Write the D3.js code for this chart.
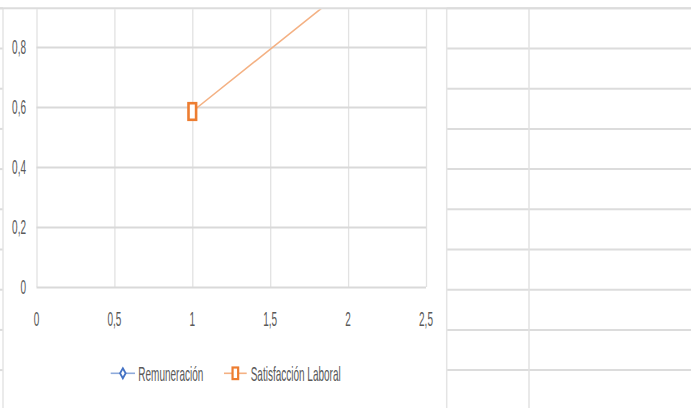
<!DOCTYPE html>
<html>
<head>
<meta charset="utf-8">
<script src="https://cdn.jsdelivr.net/npm/d3@7/dist/d3.min.js"></script>
<style>
  html, body { margin: 0; padding: 0; background: #ffffff; }
  svg { display: block; }
  text { font-family: "Liberation Sans", Arial, sans-serif; fill: #595959; }
</style>
</head>
<body>
<svg id="chart" width="691" height="408"></svg>
<script>
// ---- data ----
const xTicks = [0, 0.5, 1, 1.5, 2, 2.5];
const yTicks = [0, 0.2, 0.4, 0.6, 0.8];
const seriesNames = ["Remuneración", "Satisfacción Laboral"];
const remuneracionX = [];
const remuneracionY = [];
const satisfaccionX = [1, 2];
const satisfaccionY = [0.585, 1.0];

// ---- layout ----
const W = 691, H = 408;
const plot = { left: 36.5, right: 426, zero: 287, top: 9.3 };
const FS = 20, SX = 0.5; // condensed text
const colors = { rem: "#4472c4", remLine: "#8eaadb", sat: "#ed7d31", satLine: "#f4b183" };
const gridColor = "#d9d9d9", vGridColor = "#e2e2e2", sheetColor = "#dcdcdc";

const svg = d3.select("#chart");
svg.append("rect").attr("width", W).attr("height", H).attr("fill", "#fff");

const x = d3.scaleLinear().domain([0, 2.5]).range([plot.left, plot.right]);
const y = d3.scaleLinear().domain([0, 1]).range([plot.zero, plot.zero - 300]);

// ---- spreadsheet background (row / column lines around the chart) ----
const rowYs = d3.range(10).map(i => 8.3 + i * 40.2);
const chartL = 3, chartR = 446.7;
svg.append("g").selectAll("line.rowR").data(rowYs).join("line")
  .attr("x1", chartR).attr("x2", W).attr("y1", d => d).attr("y2", d => d)
  .attr("stroke", sheetColor).attr("stroke-width", 2);
svg.append("g").selectAll("line.rowL").data(rowYs).join("line")
  .attr("x1", 0).attr("x2", chartL).attr("y1", d => d).attr("y2", d => d)
  .attr("stroke", sheetColor).attr("stroke-width", 2);
svg.append("line").attr("x1", 529).attr("x2", 529).attr("y1", 9).attr("y2", H)
  .attr("stroke", vGridColor).attr("stroke-width", 1.5);
// chart borders
[chartL, chartR].forEach(cx => svg.append("line")
  .attr("x1", cx).attr("x2", cx).attr("y1", 9).attr("y2", H)
  .attr("stroke", "#e4e4e4").attr("stroke-width", 1.5));

// ---- clip for plot ----
svg.append("defs").append("clipPath").attr("id", "clip")
  .append("rect").attr("x", 0).attr("y", plot.top).attr("width", W).attr("height", H);

const g = svg.append("g").attr("clip-path", "url(#clip)");

// vertical gridlines
g.append("g").attr("transform", `translate(0,${plot.zero})`)
  .call(d3.axisBottom(x).tickValues(xTicks).tickSize(-(plot.zero - plot.top + 20)).tickFormat(""))
  .call(a => a.select(".domain").remove())
  .call(a => a.selectAll("line").attr("stroke", vGridColor).attr("stroke-width", 1.3));

// horizontal gridlines
g.append("g").attr("transform", `translate(${plot.left},0)`)
  .call(d3.axisLeft(y).tickValues(yTicks).tickSize(-(plot.right - plot.left)).tickFormat(""))
  .call(a => a.select(".domain").remove())
  .call(a => a.selectAll("line").attr("stroke", gridColor).attr("stroke-width", 1.8));

// y labels
const fmt = v => String(v).replace(".", ",");
svg.append("g").selectAll("g.yl").data(yTicks).join("g")
  .attr("transform", d => `translate(${plot.left - 10.5},${y(d)})`)
  .append("text").attr("transform", `scale(${SX},1)`)
  .attr("text-anchor", "end").attr("dy", "0.36em")
  .style("font-size", FS + "px").text(fmt);

// x labels
svg.append("g").selectAll("g.xl").data(xTicks).join("g")
  .attr("transform", d => `translate(${x(d)},${plot.zero + 32})`)
  .append("text").attr("transform", `scale(${SX},1)`)
  .attr("text-anchor", "middle").attr("dy", "0.36em")
  .style("font-size", FS + "px").text(fmt);

// ---- series ----
const line = d3.line().x(d => x(d[0])).y(d => y(d[1]));
const satPts = satisfaccionX.map((v, i) => [v, satisfaccionY[i]]);
const remPts = remuneracionX.map((v, i) => [v, remuneracionY[i]]);

g.append("path").datum(remPts).attr("d", line).attr("fill", "none")
  .attr("stroke", colors.remLine).attr("stroke-width", 1.5);
g.append("path").datum(satPts).attr("d", line).attr("fill", "none")
  .attr("stroke", colors.satLine).attr("stroke-width", 1.6);

g.selectAll("rect.satm").data(satPts).join("rect")
  .attr("x", d => x(d[0]) - 3.8).attr("y", d => y(d[1]) - 8.3)
  .attr("width", 7.6).attr("height", 16.6)
  .attr("fill", "#fff").attr("stroke", colors.sat).attr("stroke-width", 2.6);

g.selectAll("path.remm").data(remPts).join("path")
  .attr("d", d => `M${x(d[0])},${y(d[1]) - 6}l3,6l-3,6l-3,-6z`)
  .attr("fill", "#fff").attr("stroke", colors.rem).attr("stroke-width", 2);

// ---- legend ----
const legY = 373.3;
const leg = svg.append("g");
const legItems = [
  { name: seriesNames[0], x0: 110.7, x1: 135, tx: 138.3, line: colors.remLine, mark: colors.rem, type: "diamond" },
  { name: seriesNames[1], x0: 224, x1: 246.7, tx: 250.7, line: colors.satLine, mark: colors.sat, type: "square" }
];
legItems.forEach(it => {
  leg.append("line").attr("x1", it.x0).attr("x2", it.x1).attr("y1", legY).attr("y2", legY)
    .attr("stroke", it.line).attr("stroke-width", 1.6);
  const cx = (it.x0 + it.x1) / 2;
  if (it.type === "diamond") {
    leg.append("path").attr("d", `M${cx},${legY - 5}l2.8,5l-2.8,5l-2.8,-5z`)
      .attr("fill", "#fff").attr("stroke", it.mark).attr("stroke-width", 1.8);
  } else {
    leg.append("rect").attr("x", cx - 2.8).attr("y", legY - 5.8).attr("width", 5.6).attr("height", 11.6)
      .attr("fill", "#fff").attr("stroke", it.mark).attr("stroke-width", 2.2);
  }
  leg.append("g").attr("transform", `translate(${it.tx},${legY})`)
    .append("text").attr("transform", `scale(${SX},1)`).attr("dy", "0.36em")
    .style("font-size", FS + "px").text(it.name);
});

// top spreadsheet row line (drawn over the clipped plot)
svg.append("line").attr("x1", 0).attr("x2", W).attr("y1", 8.3).attr("y2", 8.3)
  .attr("stroke", sheetColor).attr("stroke-width", 2);
</script>
</body>
</html>
